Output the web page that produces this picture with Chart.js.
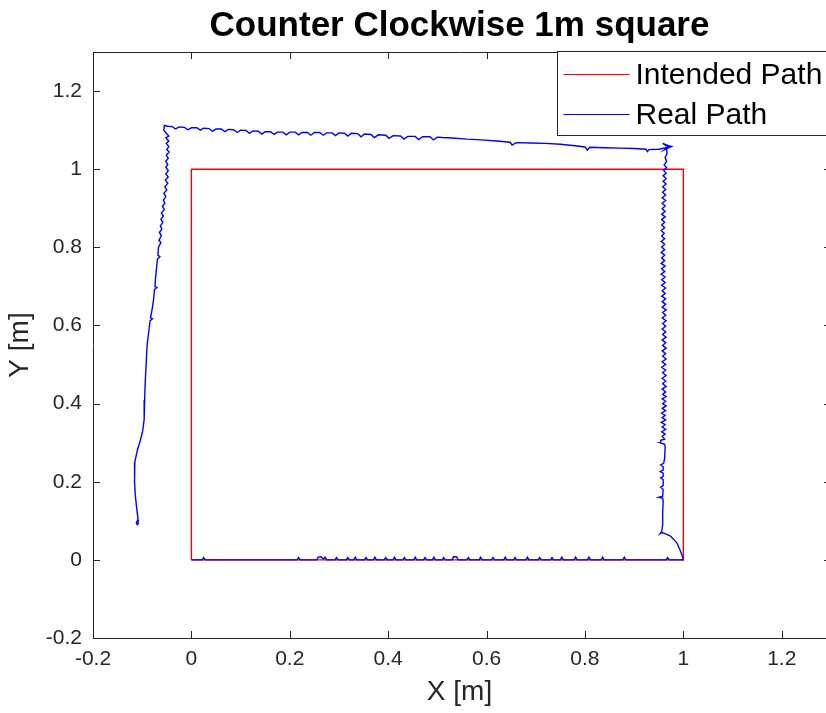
<!DOCTYPE html>
<html><head><meta charset="utf-8">
<script src="https://cdn.jsdelivr.net/npm/chart.js@4/dist/chart.umd.min.js"></script>
<style>html,body{margin:0;padding:0;background:#fff}canvas{display:block}</style>
</head><body>
<canvas id="c" width="826" height="713"></canvas>
<script>
const chartTitle = 'Counter Clockwise 1m square';
const xAxisTitle = 'X [m]';
const yAxisTitle = 'Y [m]';
const seriesNames = ['Intended Path', 'Real Path'];
const seriesColors = ['#ff0000', '#0000ff'];
const xTicks = [-0.2, 0, 0.2, 0.4, 0.6, 0.8, 1, 1.2];
const yTicks = [-0.2, 0, 0.2, 0.4, 0.6, 0.8, 1, 1.2];

const intendedX = [0, 1, 1, 0, 0];
const intendedY = [0, 0, 1, 1, 0];

// Real path, traced counter clockwise from the origin
const bottomPath = [[0,0],[0.022,0],[0.025,0.006],[0.028,0],[0.215,0],[0.218,0.006],[0.221,0],[0.255,0],[0.258,0.007],[0.264,0.008],[0.268,0.002],[0.272,0.007],[0.275,0],[0.292,0],[0.295,0.006],[0.298,0],[0.315,0],[0.318,0.006],[0.321,0],[0.33,0],[0.333,0.007],[0.336,0],[0.352,0],[0.355,0.006],[0.358,0],[0.37,0],[0.373,0.007],[0.376,0],[0.392,0],[0.395,0.006],[0.398,0],[0.41,0],[0.413,0.007],[0.416,0],[0.43,0],[0.433,0.006],[0.436,0],[0.452,0],[0.455,0.007],[0.458,0],[0.472,0],[0.475,0.006],[0.478,0],[0.49,0],[0.493,0.007],[0.496,0],[0.51,0],[0.513,0.006],[0.516,0],[0.53,0],[0.533,0.008],[0.539,0.008],[0.542,0],[0.56,0],[0.563,0.006],[0.566,0],[0.585,0],[0.588,0.007],[0.591,0],[0.61,0],[0.613,0.006],[0.616,0],[0.635,0],[0.638,0.007],[0.641,0],[0.655,0],[0.658,0.006],[0.661,0],[0.68,0],[0.683,0.007],[0.686,0],[0.705,0],[0.708,0.006],[0.711,0],[0.73,0],[0.733,0.006],[0.736,0],[0.75,0],[0.753,0.007],[0.756,0],[0.778,0],[0.781,0.007],[0.784,0],[0.805,0],[0.808,0.007],[0.811,0],[0.833,0],[0.836,0.007],[0.839,0],[0.877,0],[0.88,0.007],[0.883,0],[0.965,0],[0.968,0.006],[0.971,0],[1.0,0]];
const cornerPath = [[0.998,0.01],[0.993,0.026],[0.987,0.043],[0.980,0.053],[0.974,0.061],[0.965,0.066],[0.957,0.070],[0.953,0.067],[0.956,0.072]];
const rightPath = [[0.958,0.090],[0.958,0.120],[0.959,0.150],[0.958,0.158],[0.950,0.160],[0.958,0.163],[0.959,0.180],[0.954,0.186],[0.959,0.190],[0.959,0.205],[0.954,0.210],[0.959,0.214],[0.959,0.222],[0.953,0.226],[0.959,0.230],[0.959,0.238],[0.954,0.243],[0.960,0.247],[0.962,0.260],[0.963,0.289],[0.962,0.296],[0.953,0.300],[0.954,0.306],[0.962,0.309],[0.957,0.316],[0.963,0.322],[0.956,0.328],[0.964,0.334],[0.957,0.340],[0.963,0.346],[0.955,0.352],[0.964,0.358],[0.957,0.364],[0.963,0.370],[0.956,0.376],[0.964,0.382],[0.957,0.388],[0.965,0.394],[0.958,0.400],[0.964,0.406],[0.957,0.412],[0.965,0.418],[0.958,0.424],[0.964,0.430],[0.957,0.437],[0.965,0.444],[0.958,0.451],[0.964,0.458],[0.957,0.465],[0.965,0.472],[0.958,0.479],[0.964,0.486],[0.956,0.493],[0.964,0.500],[0.957,0.507],[0.965,0.514],[0.958,0.521],[0.964,0.528],[0.957,0.535],[0.965,0.542],[0.958,0.549],[0.964,0.556],[0.957,0.563],[0.965,0.570],[0.958,0.577],[0.964,0.584],[0.957,0.591],[0.964,0.598],[0.958,0.605],[0.965,0.612],[0.957,0.619],[0.964,0.626],[0.958,0.633],[0.965,0.640],[0.957,0.647],[0.964,0.654],[0.957,0.661],[0.964,0.668],[0.956,0.675],[0.963,0.682],[0.957,0.689],[0.964,0.696],[0.956,0.703],[0.963,0.710],[0.956,0.717],[0.963,0.724],[0.955,0.731],[0.962,0.738],[0.956,0.745],[0.963,0.752],[0.955,0.759],[0.962,0.766],[0.956,0.773],[0.962,0.780],[0.955,0.787],[0.962,0.794],[0.956,0.801],[0.962,0.808],[0.955,0.815],[0.962,0.822],[0.956,0.829],[0.961,0.836],[0.955,0.843],[0.962,0.850],[0.956,0.857],[0.962,0.864],[0.956,0.871],[0.963,0.878],[0.956,0.885],[0.963,0.892],[0.957,0.899],[0.963,0.906],[0.957,0.913],[0.964,0.920],[0.957,0.927],[0.964,0.934],[0.958,0.941],[0.964,0.948],[0.958,0.955],[0.965,0.962],[0.959,0.969],[0.965,0.976],[0.959,0.983],[0.965,0.990],[0.960,0.997],[0.966,1.004],[0.961,1.011],[0.966,1.020],[0.963,1.030],[0.967,1.040],[0.966,1.050],[0.968,1.058],[0.958,1.066],[0.970,1.060],[0.976,1.058],[0.962,1.050],[0.968,1.056]];
const topPath = [[0.95,1.051],[0.93,1.050],[0.927,1.045],[0.924,1.051],[0.90,1.053],[0.87,1.054],[0.84,1.055],[0.81,1.056],[0.805,1.049],[0.80,1.057],[0.78,1.060],[0.75,1.064],[0.72,1.066],[0.69,1.067],[0.66,1.068],[0.652,1.062],[0.648,1.069],[0.62,1.072],[0.59,1.075],[0.56,1.077],[0.53,1.080],[0.51,1.081],[0.50,1.082],[0.492,1.075],[0.485,1.083],[0.47,1.083],[0.462,1.076],[0.455,1.084],[0.44,1.084],[0.432,1.077],[0.425,1.085],[0.41,1.086],[0.402,1.079],[0.395,1.087],[0.38,1.088],[0.372,1.081],[0.365,1.089],[0.352,1.090],[0.345,1.083],[0.338,1.091],[0.325,1.092],[0.318,1.085],[0.311,1.092],[0.30,1.093],[0.293,1.086],[0.286,1.093],[0.275,1.093],[0.268,1.087],[0.261,1.094],[0.25,1.094],[0.243,1.087],[0.236,1.094],[0.225,1.094],[0.218,1.088],[0.211,1.095],[0.20,1.095],[0.193,1.088],[0.186,1.095],[0.175,1.095],[0.168,1.089],[0.161,1.096],[0.15,1.096],[0.143,1.090],[0.136,1.097],[0.125,1.098],[0.118,1.092],[0.111,1.099],[0.10,1.100],[0.093,1.094],[0.086,1.101],[0.075,1.102],[0.068,1.096],[0.061,1.103],[0.05,1.103],[0.043,1.097],[0.036,1.104],[0.025,1.105],[0.018,1.100],[0.011,1.106],[0.0,1.106],[-0.007,1.101],[-0.014,1.107],[-0.025,1.108],[-0.032,1.103],[-0.039,1.109],[-0.048,1.110],[-0.055,1.112]];
const leftPath = [[-0.056,1.100],[-0.051,1.092],[-0.046,1.085],[-0.052,1.080],[-0.046,1.072],[-0.051,1.066],[-0.046,1.058],[-0.050,1.050],[-0.045,1.044],[-0.051,1.036],[-0.047,1.028],[-0.052,1.020],[-0.048,1.012],[-0.052,1.005],[-0.047,0.996],[-0.052,0.988],[-0.047,0.980],[-0.053,0.972],[-0.048,0.964],[-0.054,0.955],[-0.050,0.947],[-0.056,0.938],[-0.052,0.930],[-0.057,0.921],[-0.054,0.913],[-0.059,0.905],[-0.055,0.897],[-0.061,0.888],[-0.057,0.880],[-0.062,0.872],[-0.058,0.864],[-0.063,0.855],[-0.060,0.847],[-0.065,0.838],[-0.061,0.830],[-0.066,0.818],[-0.062,0.812],[-0.067,0.800],[-0.068,0.780],[-0.064,0.776],[-0.069,0.770],[-0.071,0.745],[-0.073,0.720],[-0.074,0.700],[-0.070,0.697],[-0.075,0.692],[-0.077,0.665],[-0.080,0.640],[-0.083,0.620],[-0.079,0.617],[-0.084,0.612],[-0.087,0.580],[-0.090,0.550],[-0.092,0.500],[-0.094,0.450],[-0.095,0.409],[-0.096,0.360],[-0.099,0.330],[-0.104,0.305],[-0.110,0.280],[-0.115,0.250],[-0.116,0.225],[-0.115,0.200],[-0.114,0.165],[-0.111,0.130],[-0.109,0.110],[-0.108,0.092],[-0.110,0.090],[-0.112,0.095],[-0.109,0.102],[-0.106,0.101]];

const realPath = bottomPath.concat(cornerPath, rightPath, topPath, leftPath);
const FONT = "'Liberation Sans', Arial, Helvetica, sans-serif";
const AXIS_COLOR = '#262626';

const fmt = v => String(Math.round(v * 10) / 10);

const boxPlugin = {
  id: 'matlabBox',
  afterDatasetsDraw(chart) {
    const {ctx, chartArea: a, scales} = chart;
    ctx.save();
    ctx.strokeStyle = AXIS_COLOR;
    ctx.lineWidth = 1;
    ctx.beginPath();
    ctx.moveTo(a.left, a.top + 0.5); ctx.lineTo(a.right, a.top + 0.5);
    const tl = 7;
    scales.x.ticks.forEach(t => {
      const px = Math.round(scales.x.getPixelForValue(t.value)) + 0.5;
      ctx.moveTo(px, a.bottom); ctx.lineTo(px, a.bottom - tl);
      ctx.moveTo(px, a.top); ctx.lineTo(px, a.top + tl);
    });
    scales.y.ticks.forEach(t => {
      const py = Math.round(scales.y.getPixelForValue(t.value)) + 0.5;
      ctx.moveTo(a.left, py); ctx.lineTo(a.left + tl, py);
      ctx.moveTo(a.right, py); ctx.lineTo(a.right - 2, py);
    });
    ctx.stroke();
    // legend box
    const lx = Math.round(a.right - 269) + 0.5, ly = Math.round(a.top) - 0.5, lw = 300, lh = 84;
    ctx.fillStyle = '#fff';
    ctx.fillRect(lx, ly, lw, lh);
    ctx.strokeStyle = AXIS_COLOR;
    ctx.strokeRect(lx, ly, lw, lh);
    const rows = [ly + 23, ly + 63];
    ctx.font = '30px ' + FONT;
    ctx.textBaseline = 'middle';
    ctx.textAlign = 'left';
    seriesNames.forEach((name, i) => {
      ctx.strokeStyle = seriesColors[i];
      ctx.lineWidth = 1.2;
      ctx.beginPath();
      ctx.moveTo(lx + 6, rows[i]); ctx.lineTo(lx + 72, rows[i]);
      ctx.stroke();
      ctx.fillStyle = '#000';
      ctx.fillText(name, lx + 78, rows[i] + 1);
    });
    ctx.restore();
  }
};

new Chart(document.getElementById('c'), {
  type: 'scatter',
  data: {
    datasets: [
      { label: seriesNames[0], data: intendedX.map((x, i) => ({x, y: intendedY[i]})), showLine: true,
        borderColor: seriesColors[0], borderWidth: 1.4, pointRadius: 0, order: 2, tension: 0 },
      { label: seriesNames[1], data: realPath.map(p => ({x: p[0], y: p[1]})), showLine: true,
        borderColor: seriesColors[1], borderWidth: 1.4, pointRadius: 0, order: 1, tension: 0 }
    ]
  },
  options: {
    responsive: false,
    animation: false,
    events: [],
    layout: { padding: { top: 0, left: 0, right: 0, bottom: 0 } },
    plugins: {
      legend: { display: false },
      tooltip: { enabled: false },
      title: { display: true, text: chartTitle, fullSize: false, color: '#000',
        font: { family: FONT, size: 35, weight: 'bold', lineHeight: 1.2 },
        padding: { top: 5, bottom: 5 } }
    },
    scales: {
      x: {
        type: 'linear', min: -0.2, max: 1.29,
        afterBuildTicks: s => { s.ticks = xTicks.map(v => ({value: v})); },
        afterFit: s => { s.height = 75; },
        grid: { display: false, drawTicks: false },
        border: { display: true, color: AXIS_COLOR, width: 1 },
        ticks: { color: AXIS_COLOR, padding: 9, maxRotation: 0, autoSkip: false,
          font: { family: FONT, size: 21 }, callback: v => fmt(v) },
        title: { display: true, text: xAxisTitle, color: AXIS_COLOR,
          font: { family: FONT, size: 28 }, padding: { top: 0, bottom: 4 } }
      },
      y: {
        type: 'linear', min: -0.2, max: 1.3,
        afterBuildTicks: s => { s.ticks = yTicks.map(v => ({value: v})); },
        afterFit: s => { s.width = 93; },
        grid: { display: false, drawTicks: false },
        border: { display: true, color: AXIS_COLOR, width: 1 },
        ticks: { color: AXIS_COLOR, padding: 11, autoSkip: false,
          font: { family: FONT, size: 21 }, callback: v => fmt(v) },
        title: { display: true, text: yAxisTitle, color: AXIS_COLOR,
          font: { family: FONT, size: 28 }, padding: { top: 3, bottom: 0 } }
      }
    }
  },
  plugins: [boxPlugin]
});
</script>
</body></html>
